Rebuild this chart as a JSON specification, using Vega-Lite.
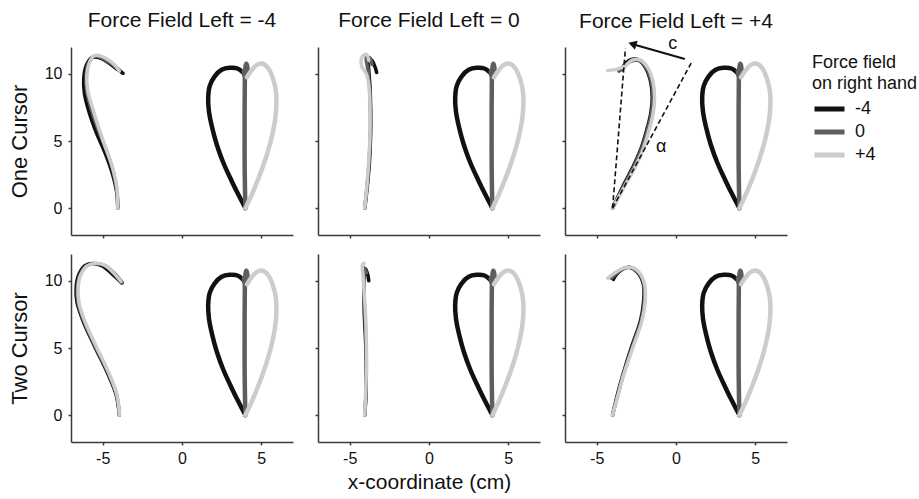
{
  "$schema": "https://vega.github.io/schema/vega-lite/v6.json",
  "padding": {"left": 8, "top": 10, "right": 2, "bottom": 2},
  "config": {
    "font": "Liberation Sans",
    "view": {"stroke": null},
    "axis": {"grid": false, "domainColor": "#3a3a3a", "domainWidth": 1.5, "tickColor": "#3a3a3a", "tickSize": 3, "tickWidth": 1.5, "labelFontSize": 16, "labelColor": "#111111", "titleFontSize": 21, "titleFontWeight": "normal", "titleColor": "#111111", "labelPadding": 5, "labelExpr": "replace(datum.label, '\u2212', '-')"},
    "title": {"fontSize": 21, "fontWeight": "normal", "color": "#111111", "offset": 16},
    "legend": {"symbolType": "stroke", "symbolStrokeWidth": 5, "symbolSize": 900, "clipHeight": 22, "titleFontSize": 18, "titleFontWeight": "normal", "labelFontSize": 18, "titleLineHeight": 21, "rowPadding": 1, "labelOffset": 8, "titlePadding": 5, "labelColor": "#111111", "titleColor": "#111111"}
  },
  "datasets": {
    "right": [
      {"f":"-4","i":0,"x":4.0,"y":0.0},{"f":"-4","i":1,"x":3.6,"y":0.9},{"f":"-4","i":2,"x":3.1,"y":2.1},{"f":"-4","i":3,"x":2.6,"y":3.4},{"f":"-4","i":4,"x":2.2,"y":4.7},{"f":"-4","i":5,"x":1.9,"y":6.0},{"f":"-4","i":6,"x":1.7,"y":7.2},{"f":"-4","i":7,"x":1.65,"y":8.2},{"f":"-4","i":8,"x":1.75,"y":9.1},{"f":"-4","i":9,"x":2.05,"y":9.8},{"f":"-4","i":10,"x":2.5,"y":10.3},{"f":"-4","i":11,"x":3.0,"y":10.45},{"f":"-4","i":12,"x":3.5,"y":10.4},{"f":"-4","i":13,"x":3.85,"y":10.1},
      {"f":"0","i":0,"x":4.0,"y":0.0},{"f":"0","i":1,"x":3.97,"y":1.5},{"f":"0","i":2,"x":3.95,"y":3.5},{"f":"0","i":3,"x":3.95,"y":5.5},{"f":"0","i":4,"x":3.95,"y":7.5},{"f":"0","i":5,"x":3.96,"y":9.0},{"f":"0","i":6,"x":3.98,"y":10.2},{"f":"0","i":7,"x":4.05,"y":10.75},{"f":"0","i":8,"x":4.12,"y":10.5},{"f":"0","i":9,"x":4.08,"y":9.9},{"f":"0","i":10,"x":3.95,"y":9.8},{"f":"0","i":11,"x":3.9,"y":10.2},
      {"f":"+4","i":0,"x":4.0,"y":0.0},{"f":"+4","i":1,"x":4.4,"y":1.0},{"f":"+4","i":2,"x":4.85,"y":2.3},{"f":"+4","i":3,"x":5.25,"y":3.6},{"f":"+4","i":4,"x":5.6,"y":5.0},{"f":"+4","i":5,"x":5.85,"y":6.4},{"f":"+4","i":6,"x":5.95,"y":7.6},{"f":"+4","i":7,"x":5.92,"y":8.7},{"f":"+4","i":8,"x":5.75,"y":9.6},{"f":"+4","i":9,"x":5.45,"y":10.4},{"f":"+4","i":10,"x":5.1,"y":10.75},{"f":"+4","i":11,"x":4.7,"y":10.65},{"f":"+4","i":12,"x":4.35,"y":10.2},{"f":"+4","i":13,"x":4.1,"y":9.75}
    ],
    "left": [
      {"r":1,"c":"-4","f":"-4","i":0,"x":-4.05,"y":0},{"r":1,"c":"-4","f":"-4","i":1,"x":-4.12,"y":1.2},{"r":1,"c":"-4","f":"-4","i":2,"x":-4.4,"y":2.6},{"r":1,"c":"-4","f":"-4","i":3,"x":-4.85,"y":4.1},{"r":1,"c":"-4","f":"-4","i":4,"x":-5.4,"y":5.6},{"r":1,"c":"-4","f":"-4","i":5,"x":-5.85,"y":7.1},{"r":1,"c":"-4","f":"-4","i":6,"x":-6.15,"y":8.5},{"r":1,"c":"-4","f":"-4","i":7,"x":-6.2,"y":9.6},{"r":1,"c":"-4","f":"-4","i":8,"x":-6.05,"y":10.6},{"r":1,"c":"-4","f":"-4","i":9,"x":-5.7,"y":11.2},{"r":1,"c":"-4","f":"-4","i":10,"x":-5.2,"y":11.2},{"r":1,"c":"-4","f":"-4","i":11,"x":-4.65,"y":10.85},{"r":1,"c":"-4","f":"-4","i":12,"x":-4.15,"y":10.4},{"r":1,"c":"-4","f":"-4","i":13,"x":-3.72,"y":10.05},
      {"r":1,"c":"-4","f":"0","i":0,"x":-4.05,"y":0},{"r":1,"c":"-4","f":"0","i":1,"x":-4.1,"y":1.2},{"r":1,"c":"-4","f":"0","i":2,"x":-4.35,"y":2.8},{"r":1,"c":"-4","f":"0","i":3,"x":-4.8,"y":4.4},{"r":1,"c":"-4","f":"0","i":4,"x":-5.3,"y":5.9},{"r":1,"c":"-4","f":"0","i":5,"x":-5.7,"y":7.3},{"r":1,"c":"-4","f":"0","i":6,"x":-6.0,"y":8.7},{"r":1,"c":"-4","f":"0","i":7,"x":-6.05,"y":9.8},{"r":1,"c":"-4","f":"0","i":8,"x":-5.9,"y":10.8},{"r":1,"c":"-4","f":"0","i":9,"x":-5.55,"y":11.3},{"r":1,"c":"-4","f":"0","i":10,"x":-5.05,"y":11.2},{"r":1,"c":"-4","f":"0","i":11,"x":-4.5,"y":10.8},{"r":1,"c":"-4","f":"0","i":12,"x":-3.95,"y":10.3},
      {"r":1,"c":"-4","f":"+4","i":0,"x":-4.06,"y":0},{"r":1,"c":"-4","f":"+4","i":1,"x":-4.1,"y":1.5},{"r":1,"c":"-4","f":"+4","i":2,"x":-4.4,"y":3.1},{"r":1,"c":"-4","f":"+4","i":3,"x":-5.0,"y":5.1},{"r":1,"c":"-4","f":"+4","i":4,"x":-5.6,"y":7.3},{"r":1,"c":"-4","f":"+4","i":5,"x":-5.95,"y":8.8},{"r":1,"c":"-4","f":"+4","i":6,"x":-6.0,"y":9.9},{"r":1,"c":"-4","f":"+4","i":7,"x":-5.85,"y":10.8},{"r":1,"c":"-4","f":"+4","i":8,"x":-5.55,"y":11.35},{"r":1,"c":"-4","f":"+4","i":9,"x":-5.05,"y":11.3},{"r":1,"c":"-4","f":"+4","i":10,"x":-4.6,"y":11.0},{"r":1,"c":"-4","f":"+4","i":11,"x":-4.2,"y":10.6},{"r":1,"c":"-4","f":"+4","i":12,"x":-3.95,"y":10.2},

      {"r":1,"c":"0","f":"-4","i":0,"x":-4.05,"y":0},{"r":1,"c":"0","f":"-4","i":1,"x":-3.9,"y":1.5},{"r":1,"c":"0","f":"-4","i":2,"x":-3.75,"y":3.5},{"r":1,"c":"0","f":"-4","i":3,"x":-3.68,"y":5.5},{"r":1,"c":"0","f":"-4","i":4,"x":-3.68,"y":7.5},{"r":1,"c":"0","f":"-4","i":5,"x":-3.72,"y":9.0},{"r":1,"c":"0","f":"-4","i":6,"x":-3.8,"y":10.3},{"r":1,"c":"0","f":"-4","i":7,"x":-3.85,"y":11.2},{"r":1,"c":"0","f":"-4","i":8,"x":-3.6,"y":11.0},{"r":1,"c":"0","f":"-4","i":9,"x":-3.4,"y":10.5},{"r":1,"c":"0","f":"-4","i":10,"x":-3.3,"y":10.1},
      {"r":1,"c":"0","f":"0","i":0,"x":-4.05,"y":0},{"r":1,"c":"0","f":"0","i":1,"x":-3.92,"y":1.5},{"r":1,"c":"0","f":"0","i":2,"x":-3.78,"y":3.5},{"r":1,"c":"0","f":"0","i":3,"x":-3.7,"y":5.5},{"r":1,"c":"0","f":"0","i":4,"x":-3.7,"y":7.5},{"r":1,"c":"0","f":"0","i":5,"x":-3.75,"y":9.0},{"r":1,"c":"0","f":"0","i":6,"x":-3.85,"y":10.3},{"r":1,"c":"0","f":"0","i":7,"x":-3.95,"y":11.2},{"r":1,"c":"0","f":"0","i":8,"x":-3.75,"y":11.2},{"r":1,"c":"0","f":"0","i":9,"x":-3.6,"y":10.7},
      {"r":1,"c":"0","f":"+4","i":0,"x":-4.06,"y":0},{"r":1,"c":"0","f":"+4","i":1,"x":-3.93,"y":1.5},{"r":1,"c":"0","f":"+4","i":2,"x":-3.8,"y":3.5},{"r":1,"c":"0","f":"+4","i":3,"x":-3.72,"y":5.5},{"r":1,"c":"0","f":"+4","i":4,"x":-3.72,"y":7.5},{"r":1,"c":"0","f":"+4","i":5,"x":-3.78,"y":9.0},{"r":1,"c":"0","f":"+4","i":6,"x":-3.95,"y":10.0},{"r":1,"c":"0","f":"+4","i":7,"x":-4.25,"y":10.6},{"r":1,"c":"0","f":"+4","i":8,"x":-4.2,"y":11.3},{"r":1,"c":"0","f":"+4","i":9,"x":-3.95,"y":11.45},{"r":1,"c":"0","f":"+4","i":10,"x":-3.8,"y":11.0},

      {"r":1,"c":"+4","f":"-4","i":0,"x":-4.0,"y":0},{"r":1,"c":"+4","f":"-4","i":1,"x":-3.4,"y":1.5},{"r":1,"c":"+4","f":"-4","i":2,"x":-2.75,"y":3.0},{"r":1,"c":"+4","f":"-4","i":3,"x":-2.25,"y":4.3},{"r":1,"c":"+4","f":"-4","i":4,"x":-1.9,"y":5.6},{"r":1,"c":"+4","f":"-4","i":5,"x":-1.6,"y":7.0},{"r":1,"c":"+4","f":"-4","i":6,"x":-1.5,"y":8.2},{"r":1,"c":"+4","f":"-4","i":7,"x":-1.6,"y":9.4},{"r":1,"c":"+4","f":"-4","i":8,"x":-1.95,"y":10.5},{"r":1,"c":"+4","f":"-4","i":9,"x":-2.45,"y":11.1},{"r":1,"c":"+4","f":"-4","i":10,"x":-2.95,"y":11.0},{"r":1,"c":"+4","f":"-4","i":11,"x":-3.3,"y":10.6},{"r":1,"c":"+4","f":"-4","i":12,"x":-3.4,"y":10.3},
      {"r":1,"c":"+4","f":"0","i":0,"x":-4.0,"y":0},{"r":1,"c":"+4","f":"0","i":1,"x":-3.35,"y":1.5},{"r":1,"c":"+4","f":"0","i":2,"x":-2.7,"y":3.0},{"r":1,"c":"+4","f":"0","i":3,"x":-2.2,"y":4.3},{"r":1,"c":"+4","f":"0","i":4,"x":-1.85,"y":5.6},{"r":1,"c":"+4","f":"0","i":5,"x":-1.55,"y":7.0},{"r":1,"c":"+4","f":"0","i":6,"x":-1.45,"y":8.2},{"r":1,"c":"+4","f":"0","i":7,"x":-1.55,"y":9.4},{"r":1,"c":"+4","f":"0","i":8,"x":-1.9,"y":10.5},{"r":1,"c":"+4","f":"0","i":9,"x":-2.4,"y":11.0},{"r":1,"c":"+4","f":"0","i":10,"x":-2.9,"y":10.9},{"r":1,"c":"+4","f":"0","i":11,"x":-3.3,"y":10.5},{"r":1,"c":"+4","f":"0","i":12,"x":-3.6,"y":10.2},
      {"r":1,"c":"+4","f":"+4","i":0,"x":-4.0,"y":0},{"r":1,"c":"+4","f":"+4","i":1,"x":-3.3,"y":1.5},{"r":1,"c":"+4","f":"+4","i":2,"x":-2.6,"y":3.0},{"r":1,"c":"+4","f":"+4","i":3,"x":-2.1,"y":4.3},{"r":1,"c":"+4","f":"+4","i":4,"x":-1.75,"y":5.6},{"r":1,"c":"+4","f":"+4","i":5,"x":-1.45,"y":7.0},{"r":1,"c":"+4","f":"+4","i":6,"x":-1.35,"y":8.2},{"r":1,"c":"+4","f":"+4","i":7,"x":-1.45,"y":9.4},{"r":1,"c":"+4","f":"+4","i":8,"x":-1.8,"y":10.5},{"r":1,"c":"+4","f":"+4","i":9,"x":-2.3,"y":11.05},{"r":1,"c":"+4","f":"+4","i":10,"x":-2.8,"y":11.0},{"r":1,"c":"+4","f":"+4","i":11,"x":-3.2,"y":10.6},{"r":1,"c":"+4","f":"+4","i":12,"x":-3.7,"y":10.35},{"r":1,"c":"+4","f":"+4","i":13,"x":-4.3,"y":10.25},

      {"r":2,"c":"-4","f":"-4","i":0,"x":-3.95,"y":0},{"r":2,"c":"-4","f":"-4","i":1,"x":-4.15,"y":1.5},{"r":2,"c":"-4","f":"-4","i":2,"x":-4.65,"y":3.0},{"r":2,"c":"-4","f":"-4","i":3,"x":-5.5,"y":5.1},{"r":2,"c":"-4","f":"-4","i":4,"x":-6.2,"y":6.9},{"r":2,"c":"-4","f":"-4","i":5,"x":-6.62,"y":8.4},{"r":2,"c":"-4","f":"-4","i":6,"x":-6.68,"y":9.5},{"r":2,"c":"-4","f":"-4","i":7,"x":-6.5,"y":10.5},{"r":2,"c":"-4","f":"-4","i":8,"x":-6.1,"y":11.15},{"r":2,"c":"-4","f":"-4","i":9,"x":-5.6,"y":11.3},{"r":2,"c":"-4","f":"-4","i":10,"x":-5.0,"y":11.1},{"r":2,"c":"-4","f":"-4","i":11,"x":-4.4,"y":10.5},{"r":2,"c":"-4","f":"-4","i":12,"x":-3.8,"y":9.85},
      {"r":2,"c":"-4","f":"0","i":0,"x":-3.95,"y":0},{"r":2,"c":"-4","f":"0","i":1,"x":-4.12,"y":1.5},{"r":2,"c":"-4","f":"0","i":2,"x":-4.6,"y":3.0},{"r":2,"c":"-4","f":"0","i":3,"x":-5.45,"y":5.1},{"r":2,"c":"-4","f":"0","i":4,"x":-6.15,"y":6.9},{"r":2,"c":"-4","f":"0","i":5,"x":-6.55,"y":8.4},{"r":2,"c":"-4","f":"0","i":6,"x":-6.6,"y":9.5},{"r":2,"c":"-4","f":"0","i":7,"x":-6.45,"y":10.4},{"r":2,"c":"-4","f":"0","i":8,"x":-6.05,"y":11.1},{"r":2,"c":"-4","f":"0","i":9,"x":-5.5,"y":11.3},{"r":2,"c":"-4","f":"0","i":10,"x":-4.9,"y":11.15},{"r":2,"c":"-4","f":"0","i":11,"x":-4.3,"y":10.6},{"r":2,"c":"-4","f":"0","i":12,"x":-3.75,"y":9.85},
      {"r":2,"c":"-4","f":"+4","i":0,"x":-3.94,"y":0},{"r":2,"c":"-4","f":"+4","i":1,"x":-4.1,"y":1.5},{"r":2,"c":"-4","f":"+4","i":2,"x":-4.56,"y":3.0},{"r":2,"c":"-4","f":"+4","i":3,"x":-5.4,"y":5.1},{"r":2,"c":"-4","f":"+4","i":4,"x":-6.1,"y":6.9},{"r":2,"c":"-4","f":"+4","i":5,"x":-6.5,"y":8.4},{"r":2,"c":"-4","f":"+4","i":6,"x":-6.55,"y":9.5},{"r":2,"c":"-4","f":"+4","i":7,"x":-6.4,"y":10.4},{"r":2,"c":"-4","f":"+4","i":8,"x":-6.0,"y":11.1},{"r":2,"c":"-4","f":"+4","i":9,"x":-5.5,"y":11.3},{"r":2,"c":"-4","f":"+4","i":10,"x":-4.95,"y":11.2},{"r":2,"c":"-4","f":"+4","i":11,"x":-4.4,"y":10.7},{"r":2,"c":"-4","f":"+4","i":12,"x":-3.85,"y":9.95},

      {"r":2,"c":"0","f":"-4","i":0,"x":-4.05,"y":0},{"r":2,"c":"0","f":"-4","i":1,"x":-3.98,"y":1.5},{"r":2,"c":"0","f":"-4","i":2,"x":-3.97,"y":3.5},{"r":2,"c":"0","f":"-4","i":3,"x":-4.0,"y":5.5},{"r":2,"c":"0","f":"-4","i":4,"x":-4.08,"y":7.5},{"r":2,"c":"0","f":"-4","i":5,"x":-4.1,"y":9.0},{"r":2,"c":"0","f":"-4","i":6,"x":-4.1,"y":10.3},{"r":2,"c":"0","f":"-4","i":7,"x":-4.0,"y":10.9},{"r":2,"c":"0","f":"-4","i":8,"x":-3.85,"y":10.4},{"r":2,"c":"0","f":"-4","i":9,"x":-3.8,"y":10.0},
      {"r":2,"c":"0","f":"0","i":0,"x":-4.05,"y":0},{"r":2,"c":"0","f":"0","i":1,"x":-3.98,"y":1.5},{"r":2,"c":"0","f":"0","i":2,"x":-3.95,"y":3.5},{"r":2,"c":"0","f":"0","i":3,"x":-3.97,"y":5.5},{"r":2,"c":"0","f":"0","i":4,"x":-4.05,"y":7.5},{"r":2,"c":"0","f":"0","i":5,"x":-4.1,"y":9.0},{"r":2,"c":"0","f":"0","i":6,"x":-4.12,"y":10.3},{"r":2,"c":"0","f":"0","i":7,"x":-4.1,"y":11.0},{"r":2,"c":"0","f":"0","i":8,"x":-3.95,"y":10.6},
      {"r":2,"c":"0","f":"+4","i":0,"x":-4.06,"y":0},{"r":2,"c":"0","f":"+4","i":1,"x":-4.0,"y":1.5},{"r":2,"c":"0","f":"+4","i":2,"x":-3.95,"y":3.5},{"r":2,"c":"0","f":"+4","i":3,"x":-3.95,"y":5.5},{"r":2,"c":"0","f":"+4","i":4,"x":-4.0,"y":7.5},{"r":2,"c":"0","f":"+4","i":5,"x":-4.08,"y":9.0},{"r":2,"c":"0","f":"+4","i":6,"x":-4.15,"y":10.3},{"r":2,"c":"0","f":"+4","i":7,"x":-4.2,"y":11.2},{"r":2,"c":"0","f":"+4","i":8,"x":-4.1,"y":11.3},

      {"r":2,"c":"+4","f":"-4","i":0,"x":-4.0,"y":0},{"r":2,"c":"+4","f":"-4","i":1,"x":-3.7,"y":1.5},{"r":2,"c":"+4","f":"-4","i":2,"x":-3.35,"y":3.0},{"r":2,"c":"+4","f":"-4","i":3,"x":-2.8,"y":5.1},{"r":2,"c":"+4","f":"-4","i":4,"x":-2.25,"y":7.0},{"r":2,"c":"+4","f":"-4","i":5,"x":-2.05,"y":8.4},{"r":2,"c":"+4","f":"-4","i":6,"x":-2.05,"y":9.7},{"r":2,"c":"+4","f":"-4","i":7,"x":-2.4,"y":10.6},{"r":2,"c":"+4","f":"-4","i":8,"x":-2.9,"y":11.0},{"r":2,"c":"+4","f":"-4","i":9,"x":-3.4,"y":10.85},{"r":2,"c":"+4","f":"-4","i":10,"x":-3.8,"y":10.4},{"r":2,"c":"+4","f":"-4","i":11,"x":-3.95,"y":10.1},
      {"r":2,"c":"+4","f":"0","i":0,"x":-4.0,"y":0},{"r":2,"c":"+4","f":"0","i":1,"x":-3.67,"y":1.5},{"r":2,"c":"+4","f":"0","i":2,"x":-3.32,"y":3.0},{"r":2,"c":"+4","f":"0","i":3,"x":-2.75,"y":5.1},{"r":2,"c":"+4","f":"0","i":4,"x":-2.2,"y":7.0},{"r":2,"c":"+4","f":"0","i":5,"x":-2.0,"y":8.4},{"r":2,"c":"+4","f":"0","i":6,"x":-2.02,"y":9.7},{"r":2,"c":"+4","f":"0","i":7,"x":-2.35,"y":10.6},{"r":2,"c":"+4","f":"0","i":8,"x":-2.85,"y":11.0},{"r":2,"c":"+4","f":"0","i":9,"x":-3.35,"y":10.9},{"r":2,"c":"+4","f":"0","i":10,"x":-3.8,"y":10.5},{"r":2,"c":"+4","f":"0","i":11,"x":-4.1,"y":10.2},
      {"r":2,"c":"+4","f":"+4","i":0,"x":-4.0,"y":0},{"r":2,"c":"+4","f":"+4","i":1,"x":-3.65,"y":1.5},{"r":2,"c":"+4","f":"+4","i":2,"x":-3.3,"y":3.0},{"r":2,"c":"+4","f":"+4","i":3,"x":-2.7,"y":5.1},{"r":2,"c":"+4","f":"+4","i":4,"x":-2.15,"y":7.0},{"r":2,"c":"+4","f":"+4","i":5,"x":-1.95,"y":8.4},{"r":2,"c":"+4","f":"+4","i":6,"x":-1.97,"y":9.7},{"r":2,"c":"+4","f":"+4","i":7,"x":-2.3,"y":10.6},{"r":2,"c":"+4","f":"+4","i":8,"x":-2.8,"y":11.0},{"r":2,"c":"+4","f":"+4","i":9,"x":-3.3,"y":10.95},{"r":2,"c":"+4","f":"+4","i":10,"x":-3.85,"y":10.6},{"r":2,"c":"+4","f":"+4","i":11,"x":-4.3,"y":10.2}
    ],
    "ann": [
      {"s":"d1","i":0,"x":-4.0,"y":0},{"s":"d1","i":1,"x":-3.19,"y":11.9},
      {"s":"d2","i":0,"x":-4.0,"y":0},{"s":"d2","i":1,"x":1.0,"y":10.9},
      {"s":"a","i":0,"x":0.56,"y":11.1},{"s":"a","i":1,"x":-2.55,"y":12.15}
    ],
    "head": [{"x":-2.75,"y":12.22}],
    "labels": [{"x":-0.2,"y":12.2,"t":"c"},{"x":-0.94,"y":4.56,"t":"α"}]
  },
  "vconcat": [
    {
      "spacing": 21,
      "hconcat": [
        {
          "width": 222, "height": 188,
          "title": "Force Field Left = -4",
          "encoding": {
            "x": {"field": "x", "type": "quantitative", "scale": {"domain": [-7, 7], "nice": false, "zero": false}, "axis": {"values": [-5, 0, 5], "labels": false, "title": null}},
            "y": {"field": "y", "type": "quantitative", "scale": {"domain": [-2, 12], "nice": false, "zero": false}, "axis": {"values": [0, 5, 10], "title": "One Cursor", "titleFontSize": 22, "titlePadding": 13, "labelPadding": 6}},
            "color": {"field": "f", "type": "nominal", "scale": {"domain": ["-4", "0", "+4"], "range": ["#111111", "#5e5e5e", "#cccccc"]}, "legend": {"title": ["Force field", "on right hand"], "orient": "none", "legendX": 741, "legendY": 7}}
          },
          "layer": [
            {"data": {"name": "right"}, "mark": {"type": "line", "interpolate": "catmull-rom", "strokeWidth": 4.5, "strokeCap": "round", "strokeJoin": "round"}, "encoding": {"order": {"field": "i", "type": "quantitative"}}},
            {"data": {"name": "left"}, "transform": [{"filter": "datum.r == 1 && datum.c == '-4'"}], "mark": {"type": "line", "interpolate": "catmull-rom", "strokeWidth": 3.5, "strokeCap": "round", "strokeJoin": "round"}, "encoding": {"order": {"field": "i", "type": "quantitative"}}}
          ]
        },
        {
          "width": 222, "height": 188,
          "title": "Force Field Left = 0",
          "encoding": {
            "x": {"field": "x", "type": "quantitative", "scale": {"domain": [-7, 7], "nice": false, "zero": false}, "axis": {"values": [-5, 0, 5], "labels": false, "title": null}},
            "y": {"field": "y", "type": "quantitative", "scale": {"domain": [-2, 12], "nice": false, "zero": false}, "axis": {"values": [0, 5, 10], "labels": false, "title": null}},
            "color": {"field": "f", "type": "nominal", "scale": {"domain": ["-4", "0", "+4"], "range": ["#111111", "#5e5e5e", "#cccccc"]}, "legend": {"title": ["Force field", "on right hand"], "orient": "none", "legendX": 741, "legendY": 7}}
          },
          "layer": [
            {"data": {"name": "right"}, "mark": {"type": "line", "interpolate": "catmull-rom", "strokeWidth": 4.5, "strokeCap": "round", "strokeJoin": "round"}, "encoding": {"order": {"field": "i", "type": "quantitative"}}},
            {"data": {"name": "left"}, "transform": [{"filter": "datum.r == 1 && datum.c == '0'"}], "mark": {"type": "line", "interpolate": "catmull-rom", "strokeWidth": 3.5, "strokeCap": "round", "strokeJoin": "round"}, "encoding": {"order": {"field": "i", "type": "quantitative"}}}
          ]
        },
        {
          "width": 222, "height": 188,
          "title": {"text": "Force Field Left = +4", "offset": 3},
          "encoding": {
            "x": {"field": "x", "type": "quantitative", "scale": {"domain": [-7, 7], "nice": false, "zero": false}, "axis": {"values": [-5, 0, 5], "labels": false, "title": null}},
            "y": {"field": "y", "type": "quantitative", "scale": {"domain": [-2, 12], "nice": false, "zero": false}, "axis": {"values": [0, 5, 10], "labels": false, "title": null}},
            "color": {"field": "f", "type": "nominal", "scale": {"domain": ["-4", "0", "+4"], "range": ["#111111", "#5e5e5e", "#cccccc"]}, "legend": {"title": ["Force field", "on right hand"], "orient": "none", "legendX": 741, "legendY": 7}}
          },
          "layer": [
            {"data": {"name": "right"}, "mark": {"type": "line", "interpolate": "catmull-rom", "strokeWidth": 4.5, "strokeCap": "round", "strokeJoin": "round"}, "encoding": {"order": {"field": "i", "type": "quantitative"}}},
            {"data": {"name": "left"}, "transform": [{"filter": "datum.r == 1 && datum.c == '+4'"}], "mark": {"type": "line", "interpolate": "catmull-rom", "strokeWidth": 3.5, "strokeCap": "round", "strokeJoin": "round"}, "encoding": {"order": {"field": "i", "type": "quantitative"}}},
            {"data": {"name": "ann"}, "transform": [{"filter": "datum.s != 'a'"}], "mark": {"type": "line", "strokeWidth": 1.6, "strokeDash": [5, 3]}, "encoding": {"color": {"value": "#111111"}, "detail": {"field": "s"}, "order": {"field": "i", "type": "quantitative"}}},
            {"data": {"name": "ann"}, "transform": [{"filter": "datum.s == 'a'"}], "mark": {"type": "line", "strokeWidth": 2}, "encoding": {"color": {"value": "#111111"}, "order": {"field": "i", "type": "quantitative"}}},
            {"data": {"name": "head"}, "mark": {"type": "point", "shape": "triangle-left", "filled": true, "size": 90, "angle": 17, "opacity": 1}, "encoding": {"color": {"value": "#111111"}}},
            {"data": {"name": "labels"}, "mark": {"type": "text", "fontSize": 18, "font": "Liberation Sans"}, "encoding": {"text": {"field": "t"}, "color": {"value": "#111111"}}}
          ]
        }
      ]
    },
    {
      "spacing": 21,
      "hconcat": [
        {
          "width": 222, "height": 188,
          "encoding": {
            "x": {"field": "x", "type": "quantitative", "scale": {"domain": [-7, 7], "nice": false, "zero": false}, "axis": {"values": [-5, 0, 5], "title": null}},
            "y": {"field": "y", "type": "quantitative", "scale": {"domain": [-2, 12], "nice": false, "zero": false}, "axis": {"values": [0, 5, 10], "title": "Two Cursor", "titleFontSize": 22, "titlePadding": 13, "labelPadding": 6}},
            "color": {"field": "f", "type": "nominal", "scale": {"domain": ["-4", "0", "+4"], "range": ["#111111", "#5e5e5e", "#cccccc"]}, "legend": {"title": ["Force field", "on right hand"], "orient": "none", "legendX": 741, "legendY": 7}}
          },
          "layer": [
            {"data": {"name": "right"}, "mark": {"type": "line", "interpolate": "catmull-rom", "strokeWidth": 4.5, "strokeCap": "round", "strokeJoin": "round"}, "encoding": {"order": {"field": "i", "type": "quantitative"}}},
            {"data": {"name": "left"}, "transform": [{"filter": "datum.r == 2 && datum.c == '-4'"}], "mark": {"type": "line", "interpolate": "catmull-rom", "strokeWidth": 3.5, "strokeCap": "round", "strokeJoin": "round"}, "encoding": {"order": {"field": "i", "type": "quantitative"}}}
          ]
        },
        {
          "width": 222, "height": 188,
          "encoding": {
            "x": {"field": "x", "type": "quantitative", "scale": {"domain": [-7, 7], "nice": false, "zero": false}, "axis": {"values": [-5, 0, 5], "title": "x-coordinate (cm)", "titlePadding": 5}},
            "y": {"field": "y", "type": "quantitative", "scale": {"domain": [-2, 12], "nice": false, "zero": false}, "axis": {"values": [0, 5, 10], "labels": false, "title": null}},
            "color": {"field": "f", "type": "nominal", "scale": {"domain": ["-4", "0", "+4"], "range": ["#111111", "#5e5e5e", "#cccccc"]}, "legend": {"title": ["Force field", "on right hand"], "orient": "none", "legendX": 741, "legendY": 7}}
          },
          "layer": [
            {"data": {"name": "right"}, "mark": {"type": "line", "interpolate": "catmull-rom", "strokeWidth": 4.5, "strokeCap": "round", "strokeJoin": "round"}, "encoding": {"order": {"field": "i", "type": "quantitative"}}},
            {"data": {"name": "left"}, "transform": [{"filter": "datum.r == 2 && datum.c == '0'"}], "mark": {"type": "line", "interpolate": "catmull-rom", "strokeWidth": 3.5, "strokeCap": "round", "strokeJoin": "round"}, "encoding": {"order": {"field": "i", "type": "quantitative"}}}
          ]
        },
        {
          "width": 222, "height": 188,
          "encoding": {
            "x": {"field": "x", "type": "quantitative", "scale": {"domain": [-7, 7], "nice": false, "zero": false}, "axis": {"values": [-5, 0, 5], "title": null}},
            "y": {"field": "y", "type": "quantitative", "scale": {"domain": [-2, 12], "nice": false, "zero": false}, "axis": {"values": [0, 5, 10], "labels": false, "title": null}},
            "color": {"field": "f", "type": "nominal", "scale": {"domain": ["-4", "0", "+4"], "range": ["#111111", "#5e5e5e", "#cccccc"]}, "legend": {"title": ["Force field", "on right hand"], "orient": "none", "legendX": 741, "legendY": 7}}
          },
          "layer": [
            {"data": {"name": "right"}, "mark": {"type": "line", "interpolate": "catmull-rom", "strokeWidth": 4.5, "strokeCap": "round", "strokeJoin": "round"}, "encoding": {"order": {"field": "i", "type": "quantitative"}}},
            {"data": {"name": "left"}, "transform": [{"filter": "datum.r == 2 && datum.c == '+4'"}], "mark": {"type": "line", "interpolate": "catmull-rom", "strokeWidth": 3.5, "strokeCap": "round", "strokeJoin": "round"}, "encoding": {"order": {"field": "i", "type": "quantitative"}}}
          ]
        }
      ]
    }
  ],
  "spacing": 15
}
